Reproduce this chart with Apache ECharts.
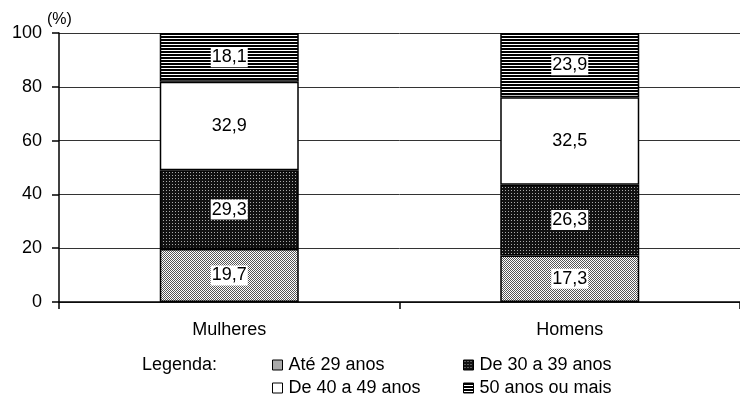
<!DOCTYPE html>
<html>
<head>
<meta charset="utf-8">
<script src="https://cdn.jsdelivr.net/npm/echarts@6/dist/echarts.min.js"></script>
<style>html,body{margin:0;padding:0;background:#fff}#c{width:740px;height:407px}</style>
</head>
<body>
<div id="c"></div>
<script>
var categories = ['Mulheres', 'Homens'];
var seriesNames = ['Até 29 anos', 'De 30 a 39 anos', 'De 40 a 49 anos', '50 anos ou mais'];
var ate29 = [19.7, 17.3];
var de30a39 = [29.3, 26.3];
var de40a49 = [32.9, 32.5];
var mais50 = [18.1, 23.9];
var yTicks = [0, 20, 40, 60, 80, 100];

function makePattern(w, h, draw) {
  var c = document.createElement('canvas');
  c.width = w; c.height = h;
  var ctx = c.getContext('2d');
  draw(ctx);
  return { image: c, repeat: 'repeat' };
}
var patLight = makePattern(2, 2, function (ctx) {
  ctx.fillStyle = '#ffffff'; ctx.fillRect(0, 0, 2, 2);
  ctx.fillStyle = '#555555'; ctx.fillRect(0, 0, 1, 1); ctx.fillRect(1, 1, 1, 1);
});
var patDark = makePattern(3, 3, function (ctx) {
  ctx.fillStyle = '#111111'; ctx.fillRect(0, 0, 3, 3);
  ctx.fillStyle = '#aaaaaa'; ctx.fillRect(1, 1, 1, 1);
});
var patStripe = makePattern(3, 3, function (ctx) {
  ctx.fillStyle = '#ffffff'; ctx.fillRect(0, 0, 3, 3);
  ctx.fillStyle = '#000000'; ctx.fillRect(0, 0, 3, 2);
});
var fills = [patLight, patDark, '#ffffff', patStripe];
var datas = [ate29, de30a39, de40a49, mais50];

var font = 'Liberation Sans, Arial, sans-serif';
var FS = 18;

var series = seriesNames.map(function (n, i) {
  return {
    name: n,
    type: 'bar',
    stack: 'total',
    barWidth: 139,
    data: datas[i],
    itemStyle: { color: fills[i], borderColor: '#000', borderWidth: 1.5 },
    label: {
      show: true,
      position: 'inside',
      formatter: function (p) { return String(p.value).replace('.', ','); },
      fontFamily: font, fontSize: FS, color: '#000',
      backgroundColor: '#fff', padding: [2, 1, 0, 1]
    },
    emphasis: { disabled: true }
  };
});

var legendPos = [[272, 356], [463, 356], [272, 379], [463, 379]];
var legends = seriesNames.map(function (n, i) {
  return {
    data: [n], left: legendPos[i][0], top: legendPos[i][1],
    icon: 'rect', itemWidth: 10, itemHeight: 10, itemGap: 5,
    padding: 0, selectedMode: false,
    itemStyle: { borderColor: '#000', borderWidth: 1 },
    textStyle: { fontFamily: font, fontSize: FS, color: '#000', padding: [0, 0, 0, 1] }
  };
});

var chart = echarts.init(document.getElementById('c'), null, { renderer: 'canvas' });
chart.setOption({
  animation: false,
  backgroundColor: '#fff',
  grid: { left: 59, top: 33, width: 692, height: 269, containLabel: false },
  legend: legends,
  graphic: [
    { type: 'text', left: 47, top: 12, style: { text: '(%)', font: '16px ' + font, fill: '#000' } },
    { type: 'text', left: 142, top: 356, style: { text: 'Legenda:', font: FS + 'px ' + font, fill: '#000' } }
  ],
  xAxis: {
    type: 'category',
    data: categories,
    axisLine: { lineStyle: { color: '#000', width: 1.5 } },
    axisTick: { show: true, length: 7, lineStyle: { color: '#000', width: 1.5 } },
    axisLabel: { fontFamily: font, fontSize: FS, color: '#000', margin: 19 }
  },
  yAxis: {
    type: 'value',
    min: yTicks[0], max: yTicks[yTicks.length - 1], interval: 20,
    axisLine: { show: true, lineStyle: { color: '#000', width: 1.5 } },
    axisTick: { show: true, length: 7, lineStyle: { color: '#000', width: 1.5 } },
    axisLabel: { fontFamily: font, fontSize: FS, color: '#000', margin: 17 },
    splitLine: { show: true, lineStyle: { color: '#333', width: 1 } }
  },
  series: series
});
</script>
</body>
</html>
